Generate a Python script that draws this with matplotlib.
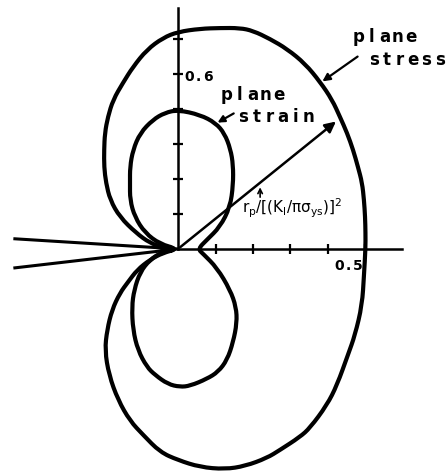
import matplotlib
matplotlib.use('Agg')
import matplotlib.pyplot as plt
from matplotlib.path import Path
from matplotlib.patches import PathPatch
import numpy as np

# plastic zone boundaries, r_p normalised, traced as (x, y) around the crack tip
stress_x = [0.0, -0.043, -0.075, -0.112, -0.155, -0.181, -0.192, -0.197, -0.197, -0.195,
            -0.187, -0.173, -0.147, -0.120, -0.083, -0.040, 0.0, 0.059, 0.112, 0.165,
            0.200, 0.245, 0.291, 0.339, 0.379, 0.411, 0.432, 0.451, 0.467, 0.480,
            0.491, 0.496, 0.499, 0.500, 0.500,
            0.496, 0.491, 0.472, 0.453, 0.424, 0.397, 0.352, 0.325, 0.272, 0.237,
            0.179, 0.125, 0.059, 0.0, -0.048, -0.093, -0.128, -0.160, -0.184, -0.195,
            -0.189, -0.176, -0.155, -0.133, -0.109, -0.075, -0.040, 0.0]
stress_y = [0.0, 0.006, 0.017, 0.046, 0.091, 0.140, 0.189, 0.234, 0.283, 0.331,
            0.377, 0.426, 0.474, 0.520, 0.569, 0.603, 0.620, 0.629, 0.631, 0.631,
            0.623, 0.600, 0.571, 0.529, 0.477, 0.426, 0.377, 0.331, 0.283, 0.234,
            0.189, 0.140, 0.091, 0.046, 0.0,
            -0.074, -0.160, -0.246, -0.303, -0.389, -0.446, -0.511, -0.537, -0.574, -0.597,
            -0.620, -0.629, -0.623, -0.603, -0.580, -0.531, -0.491, -0.431, -0.360, -0.289,
            -0.231, -0.174, -0.126, -0.094, -0.060, -0.031, -0.011, 0.0]

strain_x = [0.0, -0.048, -0.088, -0.115, -0.128, -0.128, -0.128, -0.120, -0.101, -0.067,
            -0.035, 0.0, 0.059, 0.100, 0.124, 0.140, 0.147, 0.147, 0.139, 0.112,
            0.077, 0.053,
            0.067, 0.104, 0.139, 0.155, 0.157, 0.147, 0.131, 0.107, 0.077, 0.032,
            0.005, -0.027, -0.061, -0.083, -0.107, -0.120, -0.123, -0.117, -0.101, -0.075,
            -0.043, 0.0]
strain_y = [0.0, 0.014, 0.046, 0.091, 0.140, 0.189, 0.234, 0.283, 0.331, 0.369,
            0.389, 0.397, 0.383, 0.360, 0.330, 0.285, 0.240, 0.183, 0.120, 0.063,
            0.026, 0.0,
            -0.014, -0.054, -0.117, -0.166, -0.211, -0.266, -0.317, -0.351, -0.371, -0.391,
            -0.394, -0.386, -0.360, -0.337, -0.289, -0.231, -0.166, -0.117, -0.066, -0.031,
            -0.009, 0.0]

# crack flanks running in from the left
crack_x = [-0.435, 0.0, -0.435]
crack_y = [0.029, 0.0, -0.054]

x_ticks = [0.1, 0.2, 0.3, 0.4, 0.5]
y_ticks = [0.1, 0.2, 0.3, 0.4, 0.5, 0.6]
x_axis_end = 0.597
y_axis_end = 0.689

# radius arrow drawn to the plane stress boundary
r_tip = (0.427, 0.369)


def closed_curve(xs, ys):
    # quadratic bezier through the midpoints, traced points as control points
    pts = np.column_stack([xs, ys])[:-1]
    mids = (pts + np.roll(pts, -1, axis=0)) / 2
    verts = [mids[-1]]
    codes = [Path.MOVETO]
    for p, m in zip(pts, mids):
        verts += [p, m]
        codes += [Path.CURVE3, Path.CURVE3]
    return Path(verts, codes)


fig = plt.figure(figsize=(4.46, 4.72), dpi=100)
ax = fig.add_axes([0, 0, 1, 1])
ax.set_xlim(-0.4747, 0.7147)
ax.set_ylim(-0.637, 0.711)

for s in ['top', 'right']:
    ax.spines[s].set_visible(False)
ax.spines['left'].set_position(('data', 0))
ax.spines['bottom'].set_position(('data', 0))
ax.spines['left'].set_bounds(0, y_axis_end)
ax.spines['bottom'].set_bounds(0, x_axis_end)
ax.spines['left'].set_linewidth(1.8)
ax.spines['bottom'].set_linewidth(1.8)
ax.set_xticks(x_ticks)
ax.set_yticks(y_ticks)
ax.tick_params(direction='inout', length=7, width=1.6, labelbottom=False, labelleft=False)

for xs, ys in [(stress_x, stress_y), (strain_x, strain_y)]:
    ax.add_patch(PathPatch(closed_curve(xs, ys), fill=False, edgecolor='k', lw=3.0,
                           joinstyle='round', capstyle='round'))
ax.plot(crack_x, crack_y, color='k', lw=2.2)

ax.annotate('', xy=r_tip, xytext=(0, 0),
            arrowprops=dict(arrowstyle='-|>', lw=1.8, color='k', mutation_scale=16))
ax.annotate('', xy=(0.379, 0.474), xytext=(0.485, 0.554),
            arrowprops=dict(arrowstyle='-|>', lw=1.6, color='k', mutation_scale=11))
ax.annotate('', xy=(0.099, 0.357), xytext=(0.155, 0.391),
            arrowprops=dict(arrowstyle='-|>', lw=1.6, color='k', mutation_scale=10))
ax.annotate('', xy=(0.219, 0.184), xytext=(0.219, 0.140),
            arrowprops=dict(arrowstyle='->', lw=1.2, color='k', mutation_scale=8))


def spaced(x, y, s, step, size=12):
    # lettering with wide, even spacing
    for i, ch in enumerate(s):
        ax.text(x + (i + 0.5) * step, y, ch, ha='center', va='baseline',
                fontsize=size, fontweight='bold', family='DejaVu Sans')


spaced(0.112, 0.426, 'plane', 0.0347)
spaced(0.157, 0.362, 'strain', 0.0347)
spaced(0.464, 0.591, 'plane', 0.0347)
spaced(0.504, 0.526, 'stress', 0.0352)
spaced(0.019, 0.480, '0.6', 0.024, size=10)
spaced(0.419, -0.060, '0.5', 0.024, size=10)

ax.text(0.171, 0.103, r'$\mathrm{r_p/[(K_I/\pi\sigma_{ys})]^2}$', ha='left', va='baseline',
        fontsize=11)

fig.savefig('out.png', dpi=100)
